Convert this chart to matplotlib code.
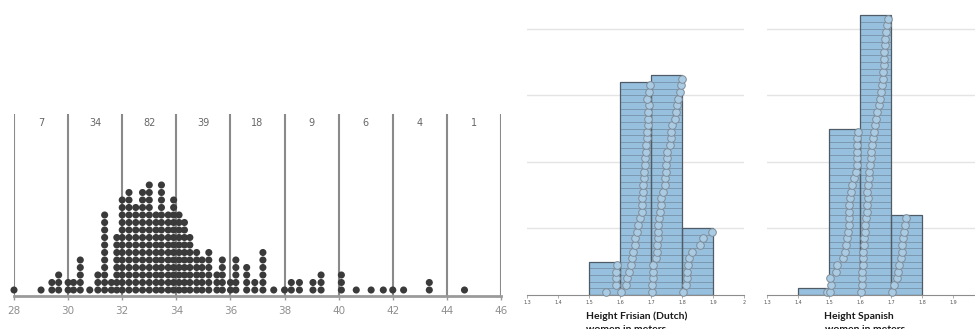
import matplotlib
matplotlib.use("Agg")
import matplotlib.pyplot as plt
import matplotlib.transforms as mtransforms

# ---------------- data ----------------
# Left: dot plot (value of each dot column, number of stacked dots)
dot_values = [28.0, 29.0, 29.4, 29.65,
              30.0, 30.2, 30.45, 30.8, 31.1, 31.35, 31.6, 31.8,
              32.0, 32.25, 32.5, 32.75, 33.0, 33.25, 33.45, 33.7, 33.9,
              34.1, 34.3, 34.5, 34.75, 34.95, 35.2, 35.5, 35.7,
              36.0, 36.2, 36.6, 36.9, 37.2, 37.6,
              38.0, 38.25, 38.55, 39.05, 39.35,
              40.1, 40.65, 41.2, 41.65,
              42.0, 42.4, 43.35,
              44.65]
dot_stack = [1, 1, 2, 3,
             2, 2, 5, 1, 3, 11, 2, 8,
             13, 14, 12, 14, 15, 11, 15, 11, 13,
             11, 10, 8, 6, 5, 6, 3, 5,
             2, 5, 4, 2, 6, 1,
             1, 2, 2, 2, 3,
             3, 1, 1, 1,
             1, 1, 2,
             1]
bin_edges_left = [28, 30, 32, 34, 36, 38, 40, 42, 44, 46]
bin_labels_left = ["7", "34", "82", "39", "18", "9", "6", "4", "1"]
left_ticks = [28, 30, 32, 34, 36, 38, 40, 42, 44, 46]

# Middle: Frisian heights, one list per bin (bottom to top)
hist_edges = [1.4, 1.5, 1.6, 1.7, 1.8, 1.9]
fr_bins = [
    [],
    [1.556, 1.588, 1.588, 1.588, 1.590],
    [1.603, 1.619, 1.622, 1.630, 1.637, 1.639, 1.643, 1.650, 1.650, 1.656,
     1.658, 1.665, 1.670, 1.672, 1.672, 1.673, 1.675, 1.677, 1.677, 1.680,
     1.681, 1.683, 1.684, 1.686, 1.687, 1.689, 1.691, 1.691, 1.694, 1.688,
     1.695, 1.697],
    [1.704, 1.704, 1.705, 1.708, 1.708, 1.716, 1.718, 1.720, 1.722, 1.724,
     1.724, 1.726, 1.729, 1.731, 1.733, 1.740, 1.744, 1.746, 1.748, 1.748,
     1.751, 1.751, 1.761, 1.763, 1.765, 1.767, 1.777, 1.781, 1.783, 1.788,
     1.794, 1.797, 1.799],
    [1.802, 1.812, 1.815, 1.815, 1.820, 1.824, 1.833, 1.858, 1.869, 1.896],
]
# Right: Spanish heights
es_bins = [
    [1.494],
    [1.502, 1.504, 1.502, 1.522, 1.526, 1.545, 1.552, 1.554, 1.558, 1.560,
     1.562, 1.563, 1.563, 1.565, 1.567, 1.569, 1.572, 1.580, 1.586, 1.588,
     1.588, 1.590, 1.590, 1.590, 1.591],
    [1.602, 1.604, 1.604, 1.607, 1.608, 1.610, 1.610, 1.612, 1.613, 1.615,
     1.615, 1.617, 1.620, 1.623, 1.625, 1.623, 1.626, 1.628, 1.629, 1.631,
     1.633, 1.636, 1.638, 1.640, 1.644, 1.647, 1.651, 1.655, 1.661, 1.663,
     1.666, 1.670, 1.672, 1.674, 1.676, 1.676, 1.677, 1.680, 1.681, 1.683,
     1.685, 1.690],
    [1.701, 1.709, 1.717, 1.723, 1.726, 1.730, 1.733, 1.736, 1.739, 1.742,
     1.745, 1.747],
]
fr_ticks = [1.3, 1.4, 1.5, 1.6, 1.7, 1.8, 1.9, 2.0]
fr_ticklabels = ["1.3", "1.4", "1.5", "1.6", "1.7", "1.8", "1.9", "2"]
es_ticks = [1.3, 1.4, 1.5, 1.6, 1.7, 1.8, 1.9]
es_ticklabels = ["1.3", "1.4", "1.5", "1.6", "1.7", "1.8", "1.9"]
grid_levels = [10, 20, 30, 40]
fr_title = ["Height Frisian (Dutch)", "women in meters"]
es_title = ["Height Spanish", "women in meters"]

# ---------------- figure ----------------
W, H = 975, 329
fig = plt.figure(figsize=(W / 100, H / 100), dpi=100)
fig.patch.set_facecolor("white")


def ax_px(l, t, r, b):
    return fig.add_axes([l / W, 1 - b / H, (r - l) / W, (b - t) / H])


# ---- left dot plot ----
ax1 = ax_px(14, 114, 501, 296)
row_px = 7.5
ax1.set_xlim(28, 46)
ax1.set_ylim(-0.8, -0.8 + 182 / row_px)
xs, ys = [], []
for v, n in zip(dot_values, dot_stack):
    for k in range(n):
        xs.append(v)
        ys.append(k)
ax1.scatter(xs, ys, s=26, color="#3a3a3a", edgecolors="none", zorder=3, clip_on=False)
for e in bin_edges_left:
    ax1.axvline(e, color="#8a8a8a", lw=1.5, zorder=1)
trans = mtransforms.blended_transform_factory(ax1.transData, ax1.transAxes)
for i, lab in enumerate(bin_labels_left):
    xc = (bin_edges_left[i] + bin_edges_left[i + 1]) / 2
    ax1.text(xc, 1 - 9.5 / 182, lab, transform=trans, ha="center", va="center",
             fontsize=7, color="#666666")
for s in ["top", "left", "right"]:
    ax1.spines[s].set_visible(False)
ax1.spines["bottom"].set_color("#9a9a9a")
ax1.spines["bottom"].set_linewidth(2)
ax1.set_yticks([])
ax1.set_xticks(left_ticks)
ax1.set_xticklabels([str(t) for t in left_ticks])
ax1.tick_params(axis="x", length=3, width=1, color="#9a9a9a", pad=4,
                labelsize=7.5, labelcolor="#8f8f8f")
ax1.patch.set_alpha(0)


# ---- histograms ----
def hist_panel(ax, bins, xlim, ticks, ticklabels, grid_right):
    ax.set_xlim(*xlim)
    ax.set_ylim(0, 295 / 6.66)
    for g in grid_levels:
        ax.plot([xlim[0], grid_right], [g, g], color="#e4e4e4", lw=1, zorder=0)
    for i, vals in enumerate(bins):
        n = len(vals)
        if n == 0:
            continue
        left = hist_edges[i]
        for k in range(n):
            ax.bar(left, 1, width=0.1, bottom=k, align="edge",
                   facecolor="#97c0de", edgecolor="#7896ad", linewidth=0.6, zorder=1)
        ax.bar(left, n, width=0.1, bottom=0, align="edge", fill=False,
               edgecolor="#4f5b66", linewidth=0.9, zorder=2)
        ax.scatter(vals, [k + 0.5 for k in range(n)], s=30, facecolor="#a9cbe4",
                   edgecolor="#808c98", linewidths=0.7, zorder=3, clip_on=False)
    for s in ["top", "left", "right"]:
        ax.spines[s].set_visible(False)
    ax.spines["bottom"].set_color("#8c8c8c")
    ax.spines["bottom"].set_linewidth(0.8)
    ax.set_yticks([])
    ax.set_xticks(ticks)
    ax.set_xticklabels(ticklabels)
    ax.tick_params(axis="x", length=2, width=0.5, color="#8c8c8c", pad=1.5,
                   labelsize=3.5, labelcolor="#555555")
    ax.patch.set_alpha(0)


ax2 = ax_px(527, 0, 744, 295)
hist_panel(ax2, fr_bins, (1.3, 2.0), fr_ticks, fr_ticklabels, 2.0)
ax3 = ax_px(767.3, 0, 975, 295)
hist_panel(ax3, es_bins, (1.3, 1.3 + (975 - 767.3) / 310), es_ticks, es_ticklabels,
           1.3 + (975 - 767.3) / 310)

fkw = dict(family=["Lato", "DejaVu Sans"], fontweight="bold", fontsize=7.5,
           color="#1a1a1a", ha="left", va="baseline")
fig.text(586 / W, 1 - 319 / H, fr_title[0], **fkw)
fig.text(586 / W, 1 - 332 / H, fr_title[1], **fkw)
fig.text(824 / W, 1 - 319 / H, es_title[0], **fkw)
fig.text(825 / W, 1 - 332 / H, es_title[1], **fkw)

fig.savefig("out.png", dpi=100, facecolor="white")
